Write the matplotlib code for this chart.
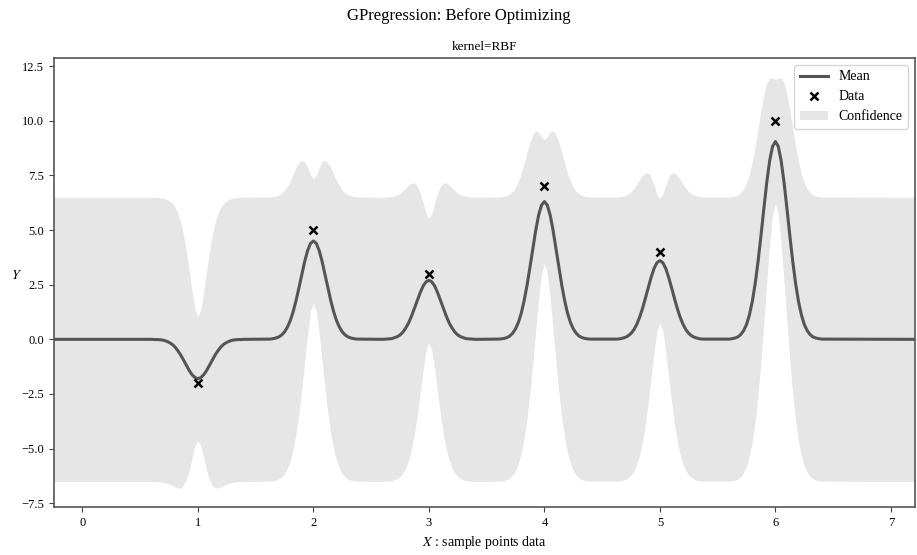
import numpy as np
import matplotlib.pyplot as plt

plt.rcParams['font.family'] = ['Liberation Serif', 'DejaVu Serif']
plt.rcParams['mathtext.fontset'] = 'stix'

# observed data points
x_data = [1, 2, 3, 4, 5, 6]
y_data = [-2, 5, 3, 7, 4, 10]

# sample offsets around each data point (read every 0.025)
offsets = [-0.4, -0.375, -0.35, -0.325, -0.3, -0.275, -0.25, -0.225, -0.2,
           -0.175, -0.15, -0.125, -0.1, -0.075, -0.05, -0.025, 0.0,
           0.025, 0.05, 0.075, 0.1, 0.125, 0.15, 0.175, 0.2,
           0.225, 0.25, 0.275, 0.3, 0.325, 0.35, 0.375, 0.4]

mean_p1 = [-1.80, -1.75, -1.62, -1.43, -1.19, -0.94, -0.71, -0.51, -0.34,
           -0.22, -0.14, -0.08, -0.04, -0.02, -0.01, -0.01, 0.00]
mean_p2 = [4.50, 4.39, 4.06, 3.57, 2.97, 2.36, 1.78, 1.27, 0.86,
           0.56, 0.34, 0.20, 0.11, 0.06, 0.03, 0.01, 0.01]
mean_p3 = [2.70, 2.63, 2.44, 2.14, 1.78, 1.42, 1.07, 0.76, 0.52,
           0.33, 0.20, 0.12, 0.07, 0.03, 0.02, 0.01, 0.00]
mean_p4 = [6.30, 6.14, 5.68, 4.99, 4.16, 3.30, 2.49, 1.78, 1.20,
           0.78, 0.48, 0.28, 0.15, 0.08, 0.04, 0.02, 0.01]
mean_p5 = [3.60, 3.51, 3.25, 2.85, 2.38, 1.89, 1.42, 1.02, 0.69,
           0.44, 0.27, 0.16, 0.09, 0.05, 0.02, 0.01, 0.01]
mean_p6 = [9.05, 8.82, 8.16, 7.17, 5.98, 4.74, 3.57, 2.55, 1.73,
           1.12, 0.68, 0.40, 0.22, 0.11, 0.06, 0.03, 0.01]

# half width of the confidence band near a data point (centre outwards)
conf_near = [2.84, 3.12, 3.80, 4.56, 5.22, 5.73, 6.08, 6.29, 6.40,
             6.46, 6.48, 6.49, 6.50, 6.50, 6.50, 6.50, 6.50]
conf_far = 6.50

x_start, x_end = -0.25, 7.2

def mirror(half):
    return half[:0:-1] + half

xs = [x_start]
mean = [0.0]
conf = [conf_far]
for c, half in zip(x_data, [mean_p1, mean_p2, mean_p3, mean_p4, mean_p5, mean_p6]):
    xs += [c + o for o in offsets]
    mean += mirror(half)
    conf += mirror(conf_near)
xs.append(x_end)
mean.append(0.0)
conf.append(conf_far)

xs = np.array(xs)
mean = np.array(mean)
conf = np.array(conf)

fig = plt.figure(figsize=(9.17, 5.55), dpi=100)
ax = fig.add_axes([0.059, 0.0865, 0.939, 0.809])

ax.fill_between(xs, mean - conf, mean + conf, color='#e6e6e6', lw=0, label='Confidence')
ax.plot(xs, mean, color='#555555', lw=2.2, label='Mean')
ax.plot(x_data, y_data, 'x', color='black', ms=6, mew=1.8, label='Data')

ax.set_xlim(-0.245, 7.21)
ax.set_ylim(-7.67, 12.87)
ax.set_xticks(range(8))
ax.set_yticks([-7.5, -5.0, -2.5, 0.0, 2.5, 5.0, 7.5, 10.0, 12.5])
ax.tick_params(labelsize=9, color='#444444')
for s in ax.spines.values():
    s.set_color('#555555')
    s.set_linewidth(1.2)

ax.set_xlabel('$X$ : sample points data', fontsize=10)
ax.set_ylabel('$Y$', fontsize=10, rotation=0)
ax.set_title('kernel=RBF', fontsize=9.5, pad=6)
fig.suptitle('GPregression: Before Optimizing', fontsize=12, y=0.985)

h, l = ax.get_legend_handles_labels()
order = [l.index('Mean'), l.index('Data'), l.index('Confidence')]
ax.legend([h[i] for i in order], [l[i] for i in order], loc='upper right', fontsize=10)

fig.savefig('out.png', dpi=100)
